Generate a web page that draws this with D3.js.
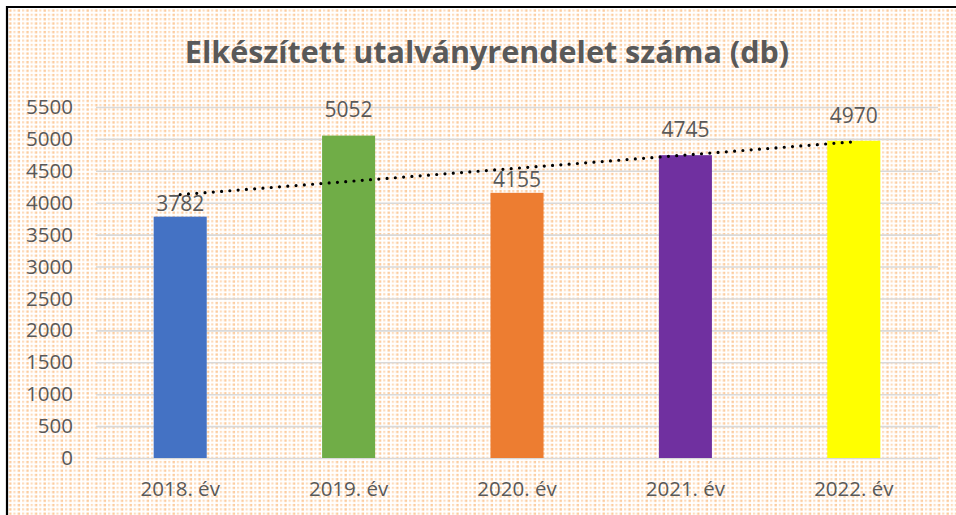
<!DOCTYPE html>
<html>
<head>
<meta charset="utf-8">
<script src="https://cdn.jsdelivr.net/npm/d3@7"></script>
<style>
  body { margin: 0; background: #fff; }
  svg text { font-family: "Open Sans", "Noto Sans", sans-serif; fill: #595959; }
</style>
</head>
<body>
<div id="chart"></div>
<script>
// data
var categories = ["2018. év", "2019. év", "2020. év", "2021. év", "2022. év"];
var values = [3782, 5052, 4155, 4745, 4970];
var barColors = ["#4472c4", "#70ad47", "#ed7d31", "#7030a0", "#ffff00"];
var yTicks = [0, 500, 1000, 1500, 2000, 2500, 3000, 3500, 4000, 4500, 5000, 5500];
var title = "Elkészített utalványrendelet száma (db)";

// label lift above bar top (the labels were moved by hand in the original)
var labelGap = [6, 19, 6, 18, 18];

var W = 956, H = 515;
var margin = {top: 107, right: 18, bottom: 57, left: 96};
var width = W - margin.left - margin.right;
var height = H - margin.top - margin.bottom;

var svg = d3.select("#chart").append("svg")
    .attr("width", W)
    .attr("height", H);

// dotted orange fill like the office texture
var defs = svg.append("defs");
var pat = defs.append("pattern")
    .attr("id", "dots")
    .attr("patternUnits", "userSpaceOnUse")
    .attr("width", 8.6).attr("height", 4.3);
pat.append("rect").attr("x", 0.5).attr("y", 0.8).attr("width", 2.4).attr("height", 2.4).attr("fill", "#fbbf86").attr("opacity", 0.8);
pat.append("rect").attr("x", 4.8).attr("y", 0.8).attr("width", 2.2).attr("height", 2.2).attr("fill", "#fccfa4").attr("opacity", 0.75);

svg.append("rect")
    .attr("x", 8).attr("y", 8)
    .attr("width", W - 8).attr("height", H - 8)
    .attr("fill", "url(#dots)");

// frame: only the left and top edges are inside the picture
svg.append("path")
    .attr("d", "M7," + H + "V7H" + W)
    .attr("fill", "none")
    .attr("stroke", "#000")
    .attr("stroke-width", 2.2);

svg.append("text")
    .attr("x", 487)
    .attr("y", 63)
    .attr("text-anchor", "middle")
    .attr("font-size", "30.5px")
    .attr("font-weight", "bold")
    .text(title);

var g = svg.append("g").attr("transform", "translate(" + margin.left + "," + margin.top + ")");

var x = d3.scaleBand()
    .domain(categories)
    .range([0, width])
    .paddingInner(0.685)
    .paddingOuter(0.3425);

var y = d3.scaleLinear()
    .domain([0, 5500])
    .range([height, 0]);

var yaxis = g.append("g")
    .attr("class", "y-axis")
    .call(d3.axisLeft(y).tickValues(yTicks).tickFormat(d3.format("d")).tickSize(-width).tickPadding(23));
yaxis.select(".domain").remove();
yaxis.selectAll("line").attr("stroke", "#d9d9d9").attr("stroke-width", 1.6);
yaxis.selectAll("text").attr("font-size", "20.5px").attr("fill", "#595959");

var xaxis = g.append("g")
    .attr("class", "x-axis")
    .attr("transform", "translate(0," + height + ")")
    .call(d3.axisBottom(x).tickSize(0).tickPadding(23));
xaxis.select(".domain").remove();
xaxis.selectAll("text").attr("font-size", "20.5px").attr("fill", "#595959");

g.selectAll("rect.bars")
    .data(values)
    .enter()
    .append("rect")
        .attr("class", "bars")
        .attr("x", function(d, i) { return x(categories[i]); })
        .attr("y", function(d) { return y(d); })
        .attr("width", x.bandwidth())
        .attr("height", function(d) { return height - y(d); })
        .attr("fill", function(d, i) { return barColors[i]; });

g.selectAll("text.vlabel")
    .data(values)
    .enter()
    .append("text")
        .attr("class", "vlabel")
        .attr("x", function(d, i) { return x(categories[i]) + x.bandwidth() / 2; })
        .attr("y", function(d, i) { return y(d) - labelGap[i]; })
        .attr("text-anchor", "middle")
        .attr("font-size", "21px")
        .text(function(d) { return d; });

// linear trendline (least squares over category index)
var n = values.length;
var xs = values.map(function(d, i) { return i + 1; });
var mx = d3.mean(xs), my = d3.mean(values);
var slope = d3.sum(xs, function(v, i) { return (v - mx) * (values[i] - my); }) /
            d3.sum(xs, function(v) { return (v - mx) * (v - mx); });
var icpt = my - slope * mx;
var trend = [xs[0], xs[n - 1]].map(function(v) {
    return [x(categories[v - 1]) + x.bandwidth() / 2, y(icpt + slope * v)];
});

g.append("path")
    .attr("d", d3.line()(trend))
    .attr("fill", "none")
    .attr("stroke", "#000")
    .attr("stroke-width", 3.2)
    .attr("stroke-linecap", "round")
    .attr("stroke-dasharray", "0,8.3");
</script>
</body>
</html>
